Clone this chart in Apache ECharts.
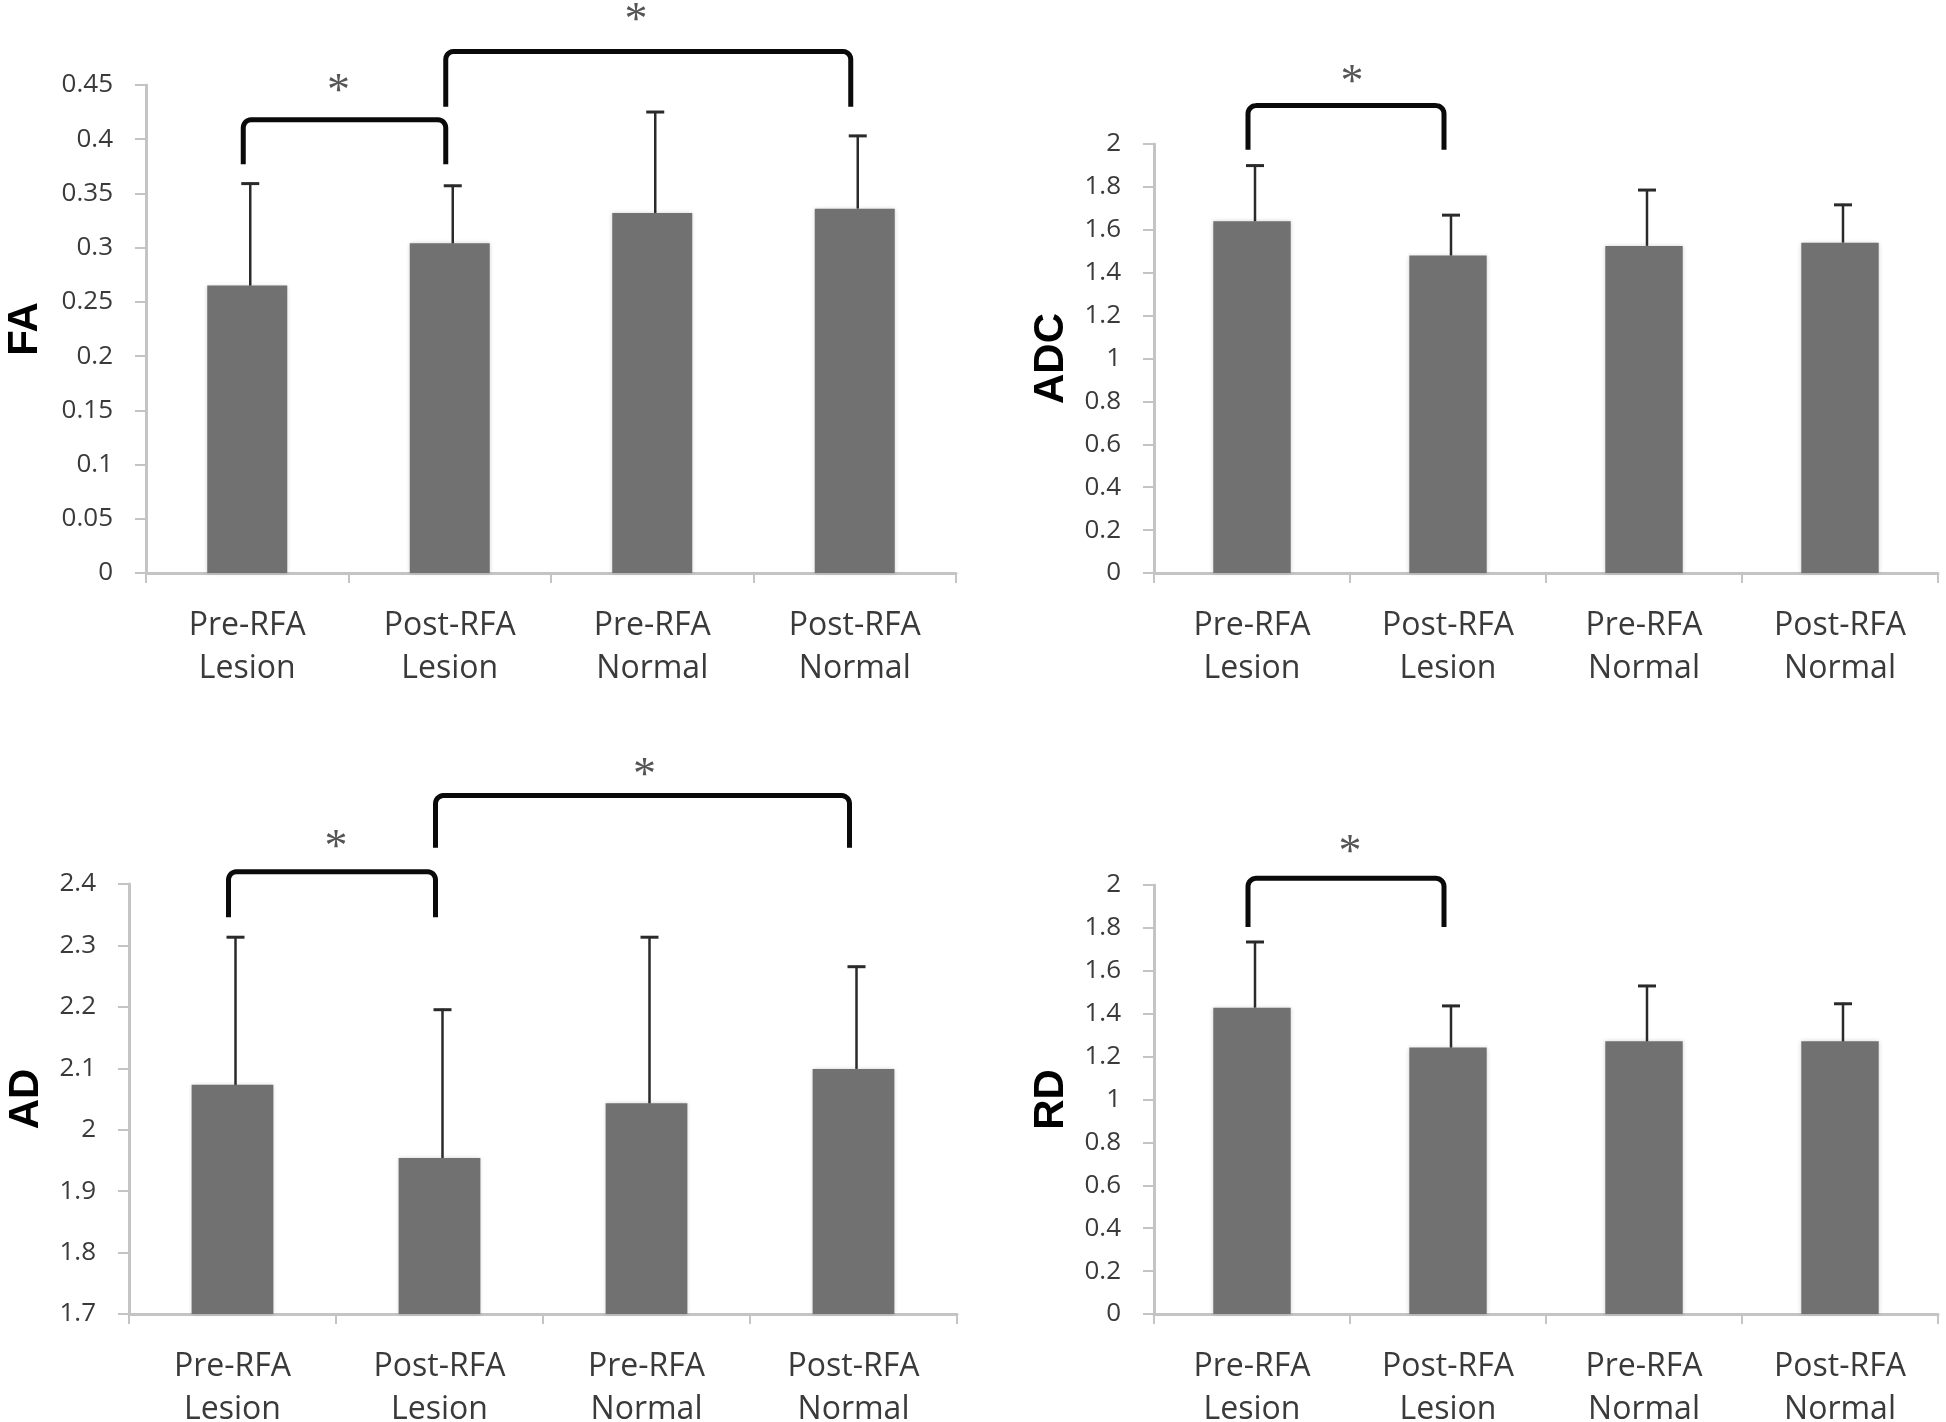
<!DOCTYPE html>
<html>
<head>
<meta charset="utf-8">
<script src="https://cdn.jsdelivr.net/npm/echarts@6/dist/echarts.min.js"></script>
<style>
html,body{margin:0;padding:0;background:#fff;}
#chart{width:1946px;height:1422px;}
</style>
</head>
<body>
<div id="chart"></div>
<script>
// ---- data ----
const categories = ['Pre-RFA\nLesion', 'Post-RFA\nLesion', 'Pre-RFA\nNormal', 'Post-RFA\nNormal'];

const faMean   = [0.265, 0.304, 0.332, 0.336];
const faErrTop = [0.360, 0.358, 0.426, 0.404];
const adcMean   = [1.640, 1.480, 1.525, 1.540];
const adcErrTop = [1.904, 1.673, 1.790, 1.721];
const adMean   = [2.073, 1.954, 2.043, 2.099];
const adErrTop = [2.315, 2.197, 2.315, 2.267];
const rdMean   = [1.428, 1.242, 1.271, 1.271];
const rdErrTop = [1.739, 1.441, 1.534, 1.451];

// significance brackets: [fromCat, toCat, topValue, legEndValue, starCatPos, starValue]
const faBrackets  = [[0, 1, 0.418, 0.377, 0.45, 0.450], [1, 3, 0.481, 0.430, 1.92, 0.516]];
const adcBrackets = [[0, 1, 2.179, 1.973, 0.51, 2.316]];
const adBrackets  = [[0, 1, 2.420, 2.346, 0.50, 2.470], [1, 3, 2.544, 2.459, 1.99, 2.587]];
const rdBrackets  = [[0, 1, 2.031, 1.804, 0.50, 2.184]];

const axisNames = ['FA', 'ADC', 'AD', 'RD'];
const axisRanges = [[0, 0.45, 0.05], [0, 2, 0.2], [1.7, 2.4, 0.1], [0, 2, 0.2]];
const starText = '*';

// ---- layout ----
const grids = [
  {left: 146, top: 85, width: 810, height: 488},
  {left: 1154, top: 144, width: 784, height: 429},
  {left: 129, top: 884, width: 828, height: 430},
  {left: 1154, top: 885, width: 784, height: 429}
];
const nameGaps = [100, 82, 82, 82];

const AXIS_GREY = '#c4c4c4';
const TEXT_COL = '#3a3a3a';

function errRender(params, api) {
  const i = api.value(0), m = api.value(1), t = api.value(2);
  const b = api.coord([i, m]);
  const p = api.coord([i, t]);
  const cap = 9;
  return {
    type: 'group',
    children: [
      {type: 'line', shape: {x1: b[0] + 3, y1: b[1], x2: p[0] + 3, y2: p[1]}, style: {stroke: '#2a2a2a', lineWidth: 2.5}},
      {type: 'line', shape: {x1: p[0] + 3 - cap, y1: p[1] + 1, x2: p[0] + 3 + cap, y2: p[1] + 1}, style: {stroke: '#2a2a2a', lineWidth: 3}}
    ]
  };
}

function brRender(params, api) {
  const a = api.coord([api.value(0), api.value(3)]);
  const b = api.coord([api.value(1), api.value(3)]);
  const t = api.coord([api.value(0), api.value(2)]);
  const c0 = api.coord([0, api.value(5)]);
  const c1 = api.coord([1, api.value(5)]);
  const sx = c0[0] + (c1[0] - c0[0]) * api.value(4);
  const sy = c0[1];
  const x1 = a[0] - 4, x2 = b[0] - 4, yl = a[1], yt = t[1];
  const r = 8;
  const pts = [[x1, yl]];
  for (let k = 0; k <= 6; k++) {
    const th = Math.PI + (Math.PI / 2) * k / 6;
    pts.push([x1 + r + r * Math.cos(th), yt + r + r * Math.sin(th)]);
  }
  for (let k = 0; k <= 6; k++) {
    const th = 1.5 * Math.PI + (Math.PI / 2) * k / 6;
    pts.push([x2 - r + r * Math.cos(th), yt + r + r * Math.sin(th)]);
  }
  pts.push([x2, yl]);
  return {
    type: 'group',
    children: [
      {type: 'polyline', shape: {points: pts}, style: {stroke: '#0a0a0a', lineWidth: 5, fill: null, lineJoin: 'round'}},
      {type: 'text', style: {text: starText, x: sx, y: sy + 8, textAlign: 'center', textVerticalAlign: 'middle',
        font: '46px "Liberation Serif"', fill: '#555'}}
    ]
  };
}

const means = [faMean, adcMean, adMean, rdMean];
const tops = [faErrTop, adcErrTop, adErrTop, rdErrTop];
const brackets = [faBrackets, adcBrackets, adBrackets, rdBrackets];

const option = {
  backgroundColor: '#fff',
  animation: false,
  grid: grids.map(g => Object.assign({containLabel: false, outerBoundsMode: 'none'}, g)),
  xAxis: grids.map((g, k) => ({
    type: 'category', gridIndex: k, data: categories, boundaryGap: true,
    axisLine: {show: true, lineStyle: {color: AXIS_GREY, width: 3}},
    axisTick: {show: true, alignWithLabel: false, length: 10, lineStyle: {color: AXIS_GREY, width: 2}},
    axisLabel: {color: TEXT_COL, fontFamily: 'Open Sans', fontSize: 32, lineHeight: 43, margin: 31, interval: 0},
    splitLine: {show: false}
  })),
  yAxis: grids.map((g, k) => ({
    type: 'value', gridIndex: k,
    min: axisRanges[k][0], max: axisRanges[k][1], interval: axisRanges[k][2],
    name: axisNames[k], nameLocation: 'middle', nameGap: nameGaps[k],
    nameTextStyle: {fontFamily: 'Liberation Sans', fontWeight: 'bold', fontSize: 42, color: '#000'},
    axisLine: {show: true, lineStyle: {color: AXIS_GREY, width: 3}},
    axisTick: {show: true, length: 11, lineStyle: {color: AXIS_GREY, width: 2}},
    axisLabel: {color: TEXT_COL, fontFamily: 'Open Sans', fontSize: 26, margin: 33, padding: [14, 0, 0, 0],
      formatter: v => String(+(+v).toFixed(2))},
    splitLine: {show: false}
  })),
  series: []
};

for (let k = 0; k < 4; k++) {
  option.series.push({
    type: 'bar', xAxisIndex: k, yAxisIndex: k, data: means[k], barWidth: '39.5%',
    itemStyle: {color: '#717171', shadowBlur: 4, shadowColor: 'rgba(0,0,0,0.18)'},
    z: 2
  });
  option.series.push({
    type: 'custom', xAxisIndex: k, yAxisIndex: k, clip: false, z: 3,
    renderItem: errRender, encode: {x: 0, y: [1, 2]},
    data: means[k].map((m, i) => [i, m, tops[k][i]])
  });
  option.series.push({
    type: 'custom', xAxisIndex: k, yAxisIndex: k, clip: false, z: 4,
    renderItem: brRender, encode: {x: [0, 1], y: [2, 3, 5]},
    data: brackets[k]
  });
}

const chart = echarts.init(document.getElementById('chart'), null, {renderer: 'canvas'});
chart.setOption(option);
</script>
</body>
</html>
